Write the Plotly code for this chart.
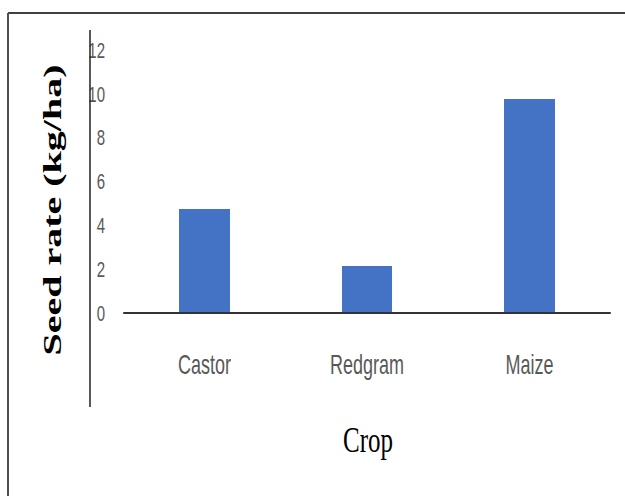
import plotly.graph_objects as go

# Seed rate by crop
crops = ["Castor", "Redgram", "Maize"]
seed_rate = [4.75, 2.15, 9.76]
y_ticks = [0, 2, 4, 6, 8, 10, 12]

W, H = 625, 496
L, R, T, B = 106, 14, 30, 144
pw, ph = W - L - R, H - T - B


def px_x(x):
    return (x - L) / pw


def px_y(y):
    return (H - B - y) / ph


sans = "Liberation Sans, Arial, sans-serif"
serif = "Liberation Serif, Times New Roman, serif"

fig = go.Figure(
    go.Bar(
        x=crops,
        y=seed_rate,
        width=0.31,
        marker=dict(color="#4472C4", line=dict(width=0)),
    )
)

fig.update_layout(
    width=W,
    height=H,
    margin=dict(l=L, r=R, t=T, b=B, pad=0),
    paper_bgcolor="white",
    plot_bgcolor="white",
    showlegend=False,
    bargap=0,
    xaxis=dict(
        range=[-0.606, 2.5015],
        showline=False,
        showgrid=False,
        zeroline=False,
        ticks="",
        tickfont=dict(family=sans, size=18, color="#595959"),
    ),
    yaxis=dict(
        range=[-1.779, 12.912],
        tickvals=y_ticks,
        showline=False,
        showgrid=False,
        zeroline=False,
        ticks="",
        tickfont=dict(family=sans, size=15, color="#595959"),
    ),
    shapes=[
        # outer frame (top and left edges)
        dict(type="line", xref="paper", yref="paper",
             x0=px_x(8), x1=px_x(625), y0=px_y(13), y1=px_y(13),
             line=dict(color="#404040", width=2)),
        dict(type="line", xref="paper", yref="paper",
             x0=px_x(8), x1=px_x(8), y0=px_y(13), y1=px_y(496),
             line=dict(color="#505050", width=2)),
        # vertical axis line
        dict(type="line", xref="paper", yref="paper",
             x0=px_x(90), x1=px_x(90), y0=px_y(30), y1=px_y(407),
             line=dict(color="#222222", width=1.5)),
        # baseline at zero
        dict(type="line", xref="x", yref="y",
             x0=-0.5, x1=2.5, y0=0, y1=0,
             line=dict(color="#333333", width=2), layer="above"),
    ],
    annotations=[
        dict(text="Crop", xref="paper", yref="paper",
             x=px_x(368), y=px_y(440), showarrow=False,
             xanchor="center", yanchor="middle",
             font=dict(family=serif, size=25, color="black")),
        dict(text="<b>Seed rate (kg/ha)</b>", xref="paper", yref="paper",
             x=px_x(53), y=px_y(210), showarrow=False, textangle=-90,
             xanchor="center", yanchor="middle",
             font=dict(family=serif, size=25, color="black")),
    ],
)

# The labels use tall, narrow lettering: stretch each text element
# about its own centre after the figure has been drawn.
stretch_js = """
function stretch(el, sx, sy) {
  var b = el.getBBox();
  var cx = b.x + b.width / 2, cy = b.y + b.height / 2;
  var t = el.getAttribute('transform') || '';
  el.setAttribute('transform', t + ' translate(' + cx + ',' + cy + ') scale(' +
    sx + ',' + sy + ') translate(' + (-cx) + ',' + (-cy) + ')');
}
var gd = document.getElementById('{plot_id}');
gd.querySelectorAll('.xtick text').forEach(function (el) { stretch(el, 1, 1.5); });
gd.querySelectorAll('.ytick text').forEach(function (el) { stretch(el, 1, 1.45); });
gd.querySelectorAll('.annotation-text').forEach(function (el) {
  if (el.textContent.indexOf('Seed') === 0) { stretch(el, 1.6, 1); }
  else { stretch(el, 1, 1.4); }
});
"""

fig.write_html("out.html", post_script=stretch_js)
